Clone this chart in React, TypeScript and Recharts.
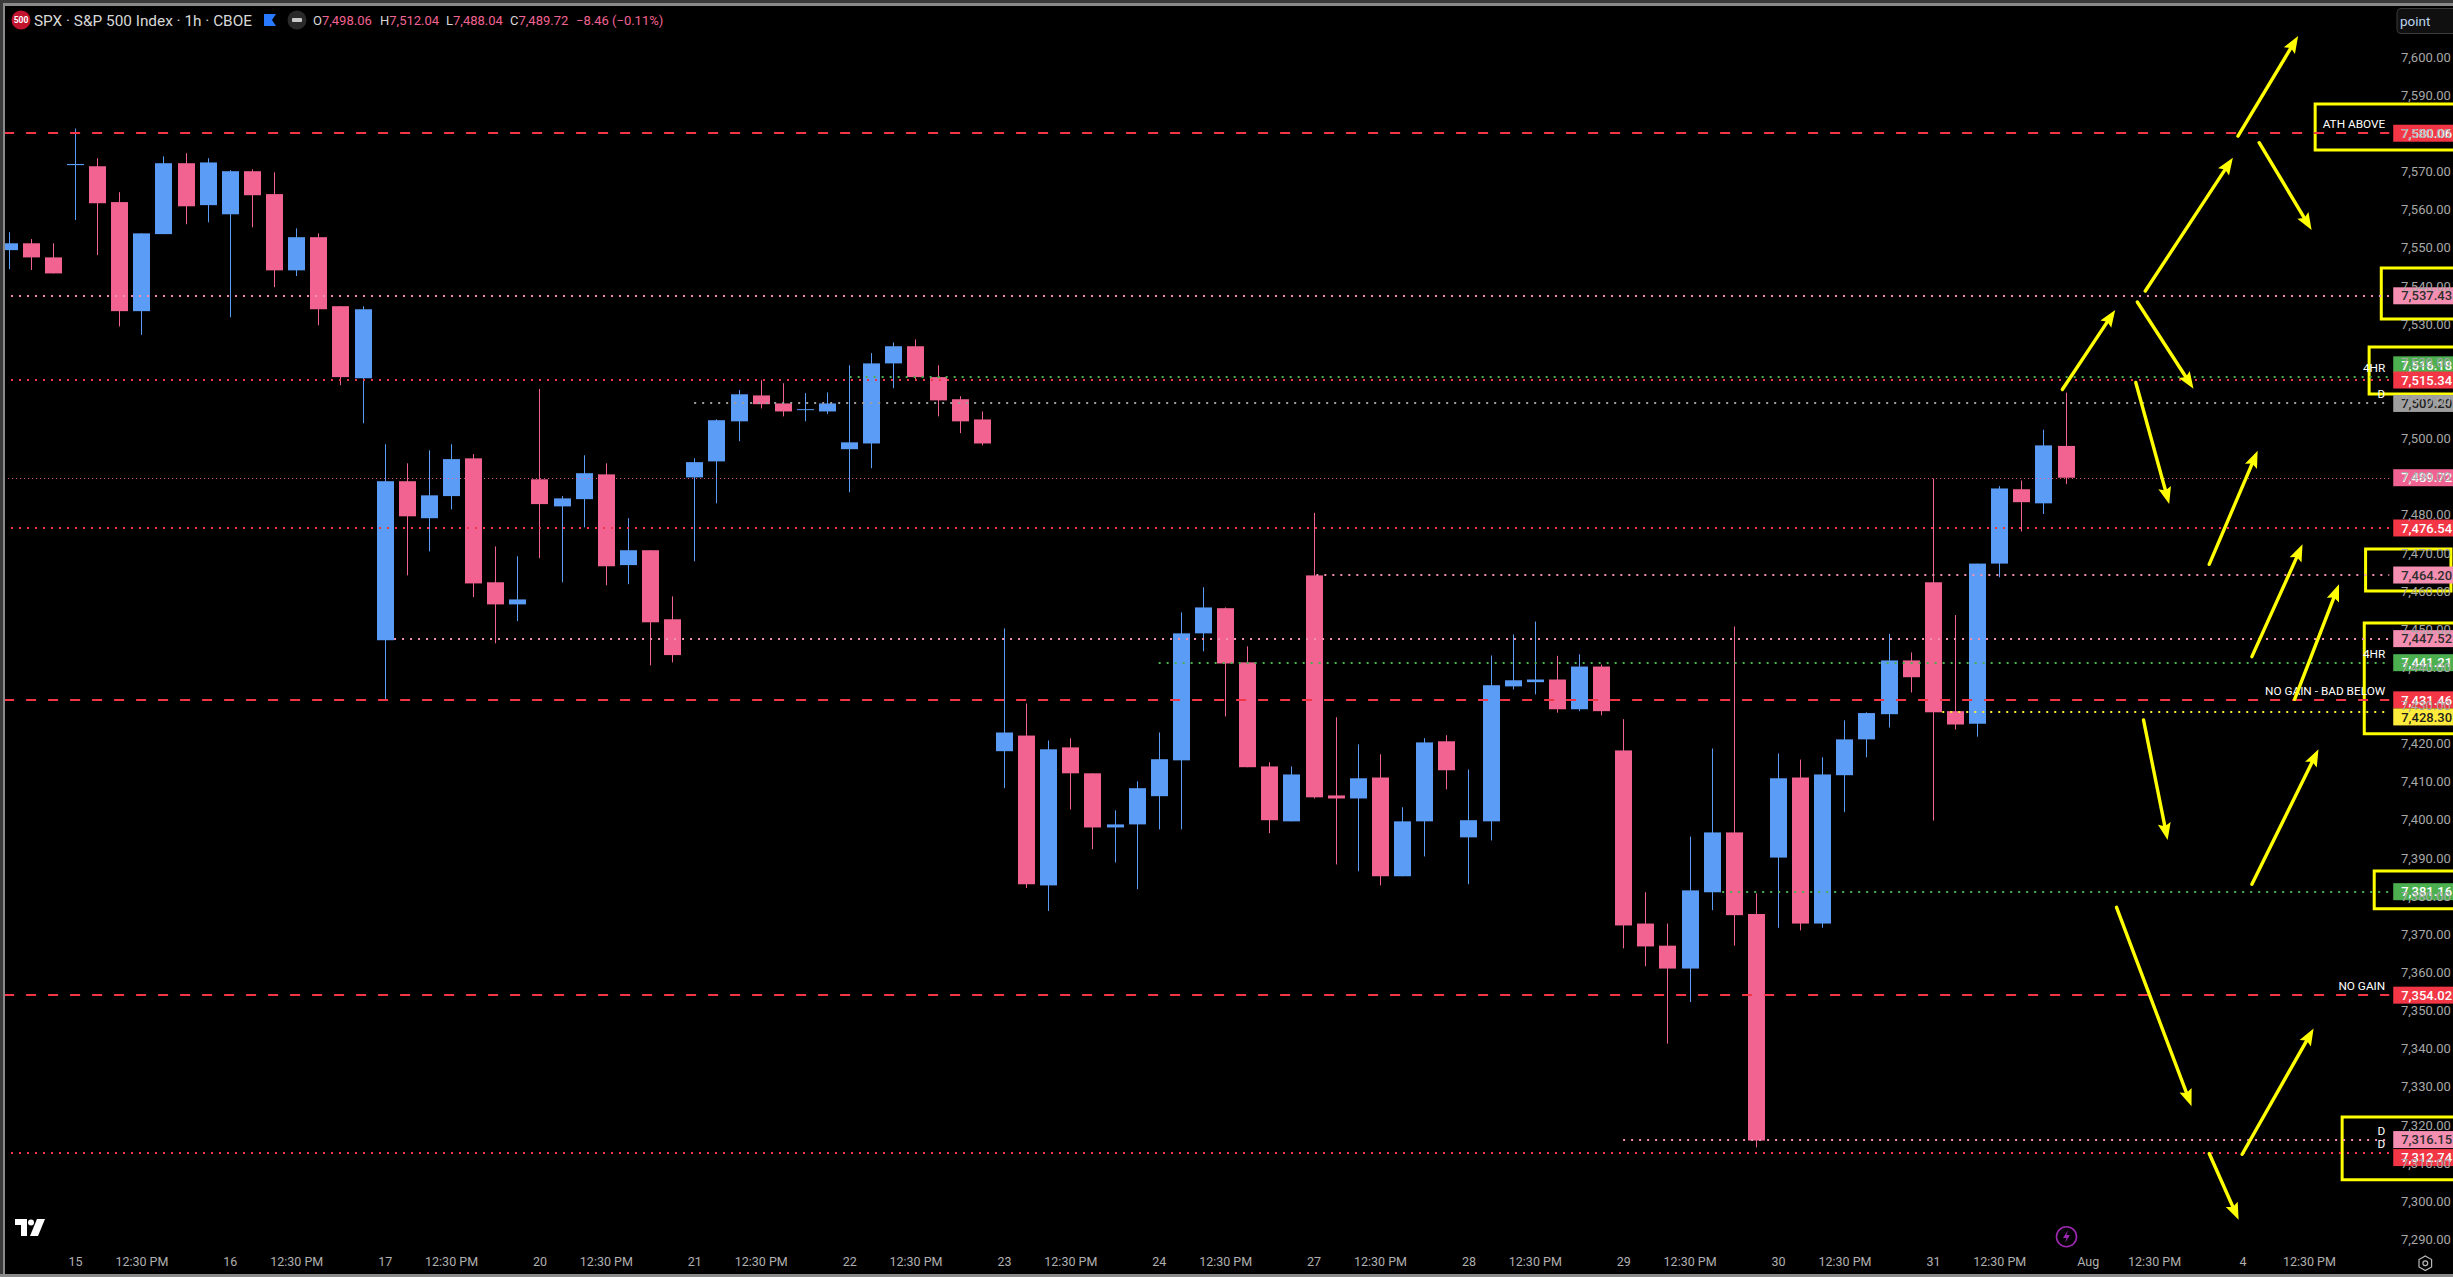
import { Bar, ComposedChart, ReferenceArea, ReferenceLine, XAxis, YAxis } from "recharts";

// SPX 1h candles
const opens = [
  7549.4, 7551.2, 7547.5, 7571.7, 7571.4, 7562.0, 7533.4, 7553.6, 7572.2, 7561.2, 7558.8, 7570.1, 7564.1, 7544.1,
  7552.8, 7534.7, 7515.8, 7447.1, 7488.8, 7479.1, 7484.9, 7494.8, 7462.3, 7456.5, 7489.3, 7482.2, 7484.1, 7490.6,
  7466.8, 7470.7, 7452.6, 7489.8, 7494.0, 7504.5, 7511.3, 7509.2, 7507.5, 7507.1, 7497.2, 7498.7, 7519.7, 7524.2,
  7516.1, 7510.3, 7505.0, 7418.0, 7422.1, 7382.8, 7419.0, 7412.2, 7398.0, 7398.8, 7406.2, 7415.6, 7448.9, 7455.5,
  7441.3, 7414.0, 7399.6, 7464.1, 7406.4, 7405.6, 7411.1, 7385.2, 7399.6, 7420.6, 7395.4, 7399.6, 7435.0, 7436.1,
  7436.8, 7429.0, 7440.2, 7418.2, 7372.8, 7367.0, 7361.0, 7381.0, 7396.7, 7375.3, 7390.1, 7411.1, 7372.8, 7411.7,
  7421.1, 7427.7, 7441.8, 7462.3, 7428.5, 7425.2, 7467.2, 7486.7, 7483.0, 7498.06,
];
const highs = [
  7554.1, 7552.3, 7551.2, 7581.3, 7573.5, 7564.6, 7553.8, 7574.0, 7574.8, 7573.5, 7570.4, 7570.6, 7569.8, 7555.1,
  7553.8, 7534.7, 7534.7, 7498.5, 7493.5, 7496.9, 7498.5, 7495.9, 7471.7, 7469.1, 7513.0, 7484.9, 7495.6, 7493.5,
  7479.1, 7470.7, 7458.6, 7494.8, 7505.05, 7512.7, 7515.3, 7514.5, 7511.9, 7512.1, 7519.2, 7522.4, 7525.2, 7526.0,
  7519.2, 7511.1, 7507.1, 7450.2, 7430.5, 7420.8, 7421.4, 7412.2, 7402.5, 7410.1, 7422.9, 7454.4, 7461.0, 7455.7,
  7445.5, 7415.1, 7414.0, 7480.5, 7426.9, 7419.8, 7417.2, 7403.3, 7421.4, 7422.2, 7413.2, 7443.1, 7448.6, 7452.0,
  7443.0, 7443.4, 7440.7, 7426.4, 7381.0, 7372.8, 7395.6, 7418.7, 7450.7, 7380.7, 7417.4, 7415.8, 7416.4, 7426.1,
  7428.2, 7448.8, 7443.9, 7489.5, 7453.7, 7467.2, 7487.5, 7489.0, 7502.3, 7512.04,
];
const lows = [
  7544.4, 7544.2, 7543.3, 7557.3, 7548.1, 7529.4, 7527.2, 7553.6, 7556.2, 7556.7, 7531.8, 7555.4, 7539.7, 7542.6,
  7529.7, 7514.0, 7504.0, 7431.6, 7464.1, 7470.4, 7481.4, 7458.4, 7446.3, 7452.1, 7468.6, 7462.3, 7476.7, 7461.5,
  7461.8, 7440.5, 7441.3, 7467.8, 7483.0, 7499.3, 7507.9, 7505.8, 7504.5, 7506.4, 7485.9, 7492.2, 7513.2, 7515.3,
  7505.8, 7501.4, 7498.2, 7408.3, 7382.1, 7376.1, 7402.7, 7392.3, 7388.8, 7381.8, 7397.5, 7397.5, 7444.2, 7427.1,
  7413.8, 7396.5, 7399.6, 7405.6, 7388.3, 7386.5, 7382.8, 7385.2, 7390.4, 7408.0, 7383.1, 7394.6, 7434.2, 7432.9,
  7428.1, 7428.5, 7427.4, 7366.3, 7361.6, 7341.3, 7352.2, 7376.3, 7367.0, 7314.1, 7371.7, 7371.0, 7371.7, 7402.0,
  7416.4, 7424.2, 7433.4, 7399.8, 7423.7, 7421.8, 7463.6, 7475.6, 7480.2, 7488.04,
];
const closes = [
  7551.2, 7547.5, 7543.3, 7572.0, 7561.7, 7533.4, 7553.8, 7572.2, 7560.9, 7572.4, 7570.1, 7563.8, 7544.1, 7552.8,
  7533.9, 7516.1, 7533.9, 7488.8, 7479.6, 7485.1, 7494.6, 7462.0, 7456.5, 7457.8, 7482.8, 7484.3, 7490.9, 7466.5,
  7470.7, 7451.8, 7443.2, 7493.8, 7504.8, 7511.6, 7509.0, 7507.1, 7507.7, 7509.2, 7499.0, 7519.7, 7524.2, 7516.1,
  7510.0, 7504.5, 7498.7, 7422.9, 7383.1, 7418.5, 7412.2, 7398.0, 7398.8, 7408.3, 7415.9, 7448.9, 7455.7, 7441.0,
  7413.8, 7399.9, 7411.9, 7405.9, 7405.6, 7410.9, 7385.2, 7399.6, 7420.3, 7413.0, 7399.9, 7435.3, 7436.6, 7436.8,
  7429.0, 7440.2, 7428.5, 7372.3, 7366.8, 7361.0, 7381.5, 7396.7, 7375.0, 7315.9, 7410.9, 7372.8, 7411.9, 7421.1,
  7428.0, 7441.8, 7437.4, 7428.2, 7425.0, 7467.2, 7486.9, 7483.3, 7498.2, 7489.72,
];

const candles = opens.map((open, i) => ({
  idx: i,
  open,
  close: closes[i],
  range: [lows[i], highs[i]],
}));

const timeTicks = [
  3, 6, 10, 13, 17, 20, 24, 27, 31, 34, 38, 41, 45, 48, 52, 55, 59, 62, 66, 69, 73, 76, 80, 83, 87, 90, 94, 97, 101, 104,
];
const timeLabels = [
  "15", "12:30 PM", "16", "12:30 PM", "17", "12:30 PM", "20", "12:30 PM", "21", "12:30 PM", "22", "12:30 PM", "23",
  "12:30 PM", "24", "12:30 PM", "27", "12:30 PM", "28", "12:30 PM", "29", "12:30 PM", "30", "12:30 PM", "31", "12:30 PM",
  "Aug", "12:30 PM", "4", "12:30 PM",
];
const priceTicks = [
  7290, 7300, 7310, 7320, 7330, 7340, 7350, 7360, 7370, 7380, 7390, 7400, 7410, 7420, 7430, 7440, 7450, 7460, 7470,
  7480, 7490, 7500, 7510, 7520, 7530, 7540, 7550, 7560, 7570, 7580, 7590, 7600,
];

// price, first bar of the line, kind of line, note above the line
const levelPrices = [7580.06, 7537.43, 7516.18, 7515.34, 7509.2, 7489.72, 7476.54, 7464.2, 7447.52, 7441.21, 7431.46, 7428.3, 7381.16, 7354.02, 7316.15, 7312.74];
const levelStarts = [-0.23, 0.08, 38, 0.08, 30.97, -0.23, 0.08, 59.1, 17.4, 51.97, -0.23, 87.4, 77.45, -0.23, 72.97, 0.08];
const levelKinds = ["red-dash", "pink", "green", "red", "gray", "close", "red", "pink", "pink", "green", "red-dash", "yellow", "green", "red-dash", "pink", "red"];
const levelNotes = ["ATH ABOVE", "", "4HR", "", "D", "", "", "", "", "4HR", "NO GAIN - BAD BELOW", "", "", "NO GAIN", "D", "D"];

// arrows: [bar, price] tail then head, drawn by hand on the original
const arrowTails = [
  [100.77, 7579.33], [96.58, 7538.68], [101.73, 7577.58], [96.22, 7535.8], [92.83, 7512.85], [96.15, 7514.7], [99.47, 7467.0],
  [101.4, 7442.8], [103.33, 7431.6], [96.5, 7426.2], [101.4, 7383.1], [95.28, 7377.05], [100.96, 7312.3], [99.47, 7312.5],
];
const arrowHeads = [
  [103.49, 7605.56], [100.54, 7573.64], [104.1, 7554.68], [98.76, 7513.06], [95.22, 7533.7], [97.66, 7482.82], [101.66, 7496.8],
  [103.69, 7472.25], [105.34, 7461.76], [97.59, 7394.7], [104.41, 7418.5], [98.67, 7324.9], [104.19, 7345.3], [100.8, 7295.1],
];
// yellow boxes: left bar, right bar, top price, bottom price
const boxes = [
  [104.26, 111, 7587.73, 7575.66],
  [107.25, 111, 7544.71, 7531.34],
  [106.7, 111, 7524.0, 7511.67],
  [106.54, 110.4, 7471.0, 7460.0],
  [106.48, 111, 7451.6, 7422.6],
  [106.93, 111, 7386.6, 7376.7],
  [105.48, 111, 7322.05, 7305.6],
];

const BLUE = "#5b9cf6";
const PINK = "#f26392";
const YELLOW = "#ffff00";
const FONT = "Roboto, 'Open Sans', sans-serif";

const KIND_STYLE: Record<string, { stroke: string; dash: string; width: number; tag: string; text: string }> = {
  "red-dash": { stroke: "#f23645", dash: "10 12", width: 2, tag: "#f23645", text: "#ffffff" },
  red: { stroke: "#f23645", dash: "2 6", width: 2, tag: "#f23645", text: "#ffffff" },
  pink: { stroke: "#f48fb1", dash: "2 6", width: 2, tag: "#f48fb1", text: "#2e2e2e" },
  green: { stroke: "#4caf50", dash: "2 6", width: 2, tag: "#4caf50", text: "#ffffff" },
  gray: { stroke: "#9e9e9e", dash: "2 6", width: 2, tag: "#9e9e9e", text: "#1e1e1e" },
  yellow: { stroke: "#ffeb3b", dash: "2 6", width: 2, tag: "#ffeb3b", text: "#1e1e1e" },
  close: { stroke: "#f06292", dash: "1 3", width: 1, tag: "#f06292", text: "#ffffff" },
};

// price tags pushed out of each other's way
const TAG_NUDGE: Record<number, number> = { 7516.18: -12, 7428.3: 5, 7312.74: 5 };

const fmt = (v: number) => v.toLocaleString("en-US", { minimumFractionDigits: 2, maximumFractionDigits: 2 });

function Candle(props: any) {
  const { x, y, width, height, payload } = props;
  const [low, high] = payload.range;
  const perPoint = height / (high - low);
  const up = payload.close >= payload.open;
  const color = up ? BLUE : PINK;
  const top = y + (high - Math.max(payload.open, payload.close)) * perPoint;
  const bodyH = Math.max(Math.abs(payload.close - payload.open) * perPoint, 1);
  const mid = Math.round(x + width / 2) - 0.5;
  return (
    <g>
      <line x1={mid} x2={mid} y1={y} y2={y + height} stroke={color} strokeWidth={1} />
      <rect x={mid - 8.5} y={top} width={17} height={bodyH} fill={color} />
    </g>
  );
}

const levelShape = (kind: string, note: string) => (p: any) => {
  const st = KIND_STYLE[kind];
  // snap to the pixel grid so the dots stay crisp
  const y = st.width === 1 ? Math.round(p.y1) + 0.5 : Math.round(p.y1);
  return (
    <g>
      <line x1={p.x1} x2={p.x2} y1={y} y2={y} stroke={st.stroke} strokeWidth={st.width} strokeDasharray={st.dash} />
      {note ? (
        <text x={p.x2 - 4} y={p.y1 - 5} textAnchor="end" fontFamily={FONT} fontSize={11.8} fill="#ffffff">
          {note}
        </text>
      ) : null}
    </g>
  );
};

const tagShape = (price: number, kind: string) => (p: any) => {
  const st = KIND_STYLE[kind];
  const cy = p.y1 + (TAG_NUDGE[price] ?? 0);
  return (
    <g>
      <rect x={p.x1} y={cy - 8.5} width={62} height={17} fill={st.tag} />
      <text x={p.x1 + 8} y={cy + 4.7} fontFamily={FONT} fontSize={13} fontWeight={500} fill={st.text}>
        {fmt(price)}
      </text>
    </g>
  );
};

function Arrow(p: any) {
  const dx = p.x2 - p.x1;
  const dy = p.y2 - p.y1;
  const len = Math.hypot(dx, dy);
  const ux = dx / len;
  const uy = dy / len;
  const bx = p.x2 - ux * 17;
  const by = p.y2 - uy * 17;
  const nx = bx + ux * 3;
  const ny = by + uy * 3;
  return (
    <g>
      <line x1={p.x1} y1={p.y1} x2={nx} y2={ny} stroke={YELLOW} strokeWidth={3.4} strokeLinecap="round" />
      <polygon
        points={`${p.x2},${p.y2} ${bx - uy * 6.5},${by + ux * 6.5} ${nx},${ny} ${bx + uy * 6.5},${by - ux * 6.5}`}
        fill={YELLOW}
      />
    </g>
  );
}

function Overlay() {
  return (
    <svg width={2453} height={1277} style={{ position: "absolute", left: 0, top: 0, pointerEvents: "none" }}>
      <rect x={0} y={0} width={2453} height={3} fill="#3a3a3a" />
      <rect x={0} y={3} width={2453} height={3} fill="#8a8a8a" />
      <rect x={0} y={0} width={3} height={1277} fill="#3a3a3a" />
      <rect x={3} y={3} width={2} height={1274} fill="#8a8a8a" />
      <rect x={0} y={1274} width={2453} height={3} fill="#8a8a8a" />

      <circle cx={21} cy={20} r={9.5} fill="#c2142e" />
      <text x={21} y={23} textAnchor="middle" fontFamily={FONT} fontSize={8.5} fontWeight={700} fill="#ffffff">500</text>
      <text x={34} y={26} fontFamily={FONT} fontSize={15} fill="#d8d8d8" textLength={218} lengthAdjust="spacingAndGlyphs">
        SPX · S&amp;P 500 Index · 1h · CBOE
      </text>
      <polygon points="264,14 276,14 272,20 276,26 264,26" fill="#2979ff" />
      <circle cx={297} cy={20} r={9.5} fill="#2a2a2a" />
      <rect x={292} y={18} width={10} height={4} rx={1} fill="#c8c8c8" />
      <text y={25} fontFamily={FONT} fontSize={13} fill={PINK}>
        <tspan x={313} fill="#d8d8d8">O</tspan><tspan>7,498.06</tspan>
        <tspan x={380} fill="#d8d8d8">H</tspan><tspan>7,512.04</tspan>
        <tspan x={446} fill="#d8d8d8">L</tspan><tspan>7,488.04</tspan>
        <tspan x={510} fill="#d8d8d8">C</tspan><tspan>7,489.72</tspan>
        <tspan x={576}>−8.46 (−0.11%)</tspan>
      </text>

      <rect x={2397} y={8.5} width={60} height={25} rx={4} fill="#101010" stroke="#3a3a3a" />
      <text x={2400} y={26} fontFamily={FONT} fontSize={13.5} fill="#bcd4ee">point</text>

      {/* TradingView mark */}
      <path d="M15 1219 H27 V1236 H21 V1225 H15 Z" fill="#ffffff" />
      <circle cx={31} cy={1222.5} r={3} fill="#ffffff" />
      <polygon points="37,1219 45,1219 38,1236 30,1236" fill="#ffffff" />

      <circle cx={2066.5} cy={1236.7} r={10} fill="none" stroke="#9c27b0" strokeWidth={1.6} />
      <polygon points="2068,1230 2063,1238 2066.5,1238 2065,1243 2070,1235 2066.5,1235" fill="#9c27b0" />

      <polygon
        points="2425.3,1256 2431.6,1259.6 2431.6,1267 2425.3,1270.6 2419,1267 2419,1259.6"
        fill="none"
        stroke="#b8b8b8"
        strokeWidth={1.2}
      />
      <circle cx={2425.3} cy={1263.3} r={2.4} fill="none" stroke="#b8b8b8" strokeWidth={1.2} />
    </svg>
  );
}

export default function App() {
  return (
    <div style={{ position: "absolute", left: 0, top: 0, width: 2453, height: 1277, background: "#000", overflow: "hidden" }}>
      <ComposedChart width={2453} height={1277} data={candles} margin={{ top: 18, right: 0, bottom: 0, left: 4 }}>
        <XAxis
          dataKey="idx"
          type="number"
          scale="linear"
          domain={[-0.2351, 107.87]}
          allowDataOverflow
          ticks={timeTicks}
          interval={0}
          height={32}
          tickFormatter={(v: number) => timeLabels[timeTicks.indexOf(v)]}
          axisLine={false}
          tickLine={false}
          tickSize={0}
          tickMargin={12}
          tick={{ fontSize: 12.5, fill: "#b0b0b0", fontFamily: FONT }}
        />
        <YAxis
          orientation="right"
          type="number"
          domain={[7288.5, 7610.28]}
          allowDataOverflow
          ticks={priceTicks}
          interval={0}
          width={58}
          tickFormatter={fmt}
          axisLine={false}
          tickLine={false}
          tickSize={0}
          tickMargin={6}
          tick={{ fontSize: 13, fill: "#a8a8a8", fontFamily: FONT, textAnchor: "start" }}
        />
        {levelPrices.map((price, i) => (
          <ReferenceLine
            key={price}
            segment={[{ x: levelStarts[i], y: price }, { x: 107.61, y: price }]}
            ifOverflow="visible"
            shape={levelShape(levelKinds[i], levelNotes[i])}
          />
        ))}
        <Bar dataKey="range" barSize={17} shape={Candle} isAnimationActive={false} />
        {boxes.map((b, i) => (
          <ReferenceArea
            key={i}
            x1={b[0]}
            x2={b[1]}
            y1={b[2]}
            y2={b[3]}
            ifOverflow="visible"
            fill="none"
            stroke={YELLOW}
            strokeWidth={3}
          />
        ))}
        {levelPrices.map((price, i) => (
          <ReferenceLine
            key={"tag" + price}
            segment={[{ x: 107.79, y: price }, { x: 110.6, y: price }]}
            ifOverflow="visible"
            shape={tagShape(price, levelKinds[i])}
          />
        ))}
        {arrowTails.map((t, i) => (
          <ReferenceLine
            key={"arrow" + i}
            segment={[{ x: t[0], y: t[1] }, { x: arrowHeads[i][0], y: arrowHeads[i][1] }]}
            ifOverflow="visible"
            shape={Arrow}
          />
        ))}
      </ComposedChart>
      <Overlay />
    </div>
  );
}
